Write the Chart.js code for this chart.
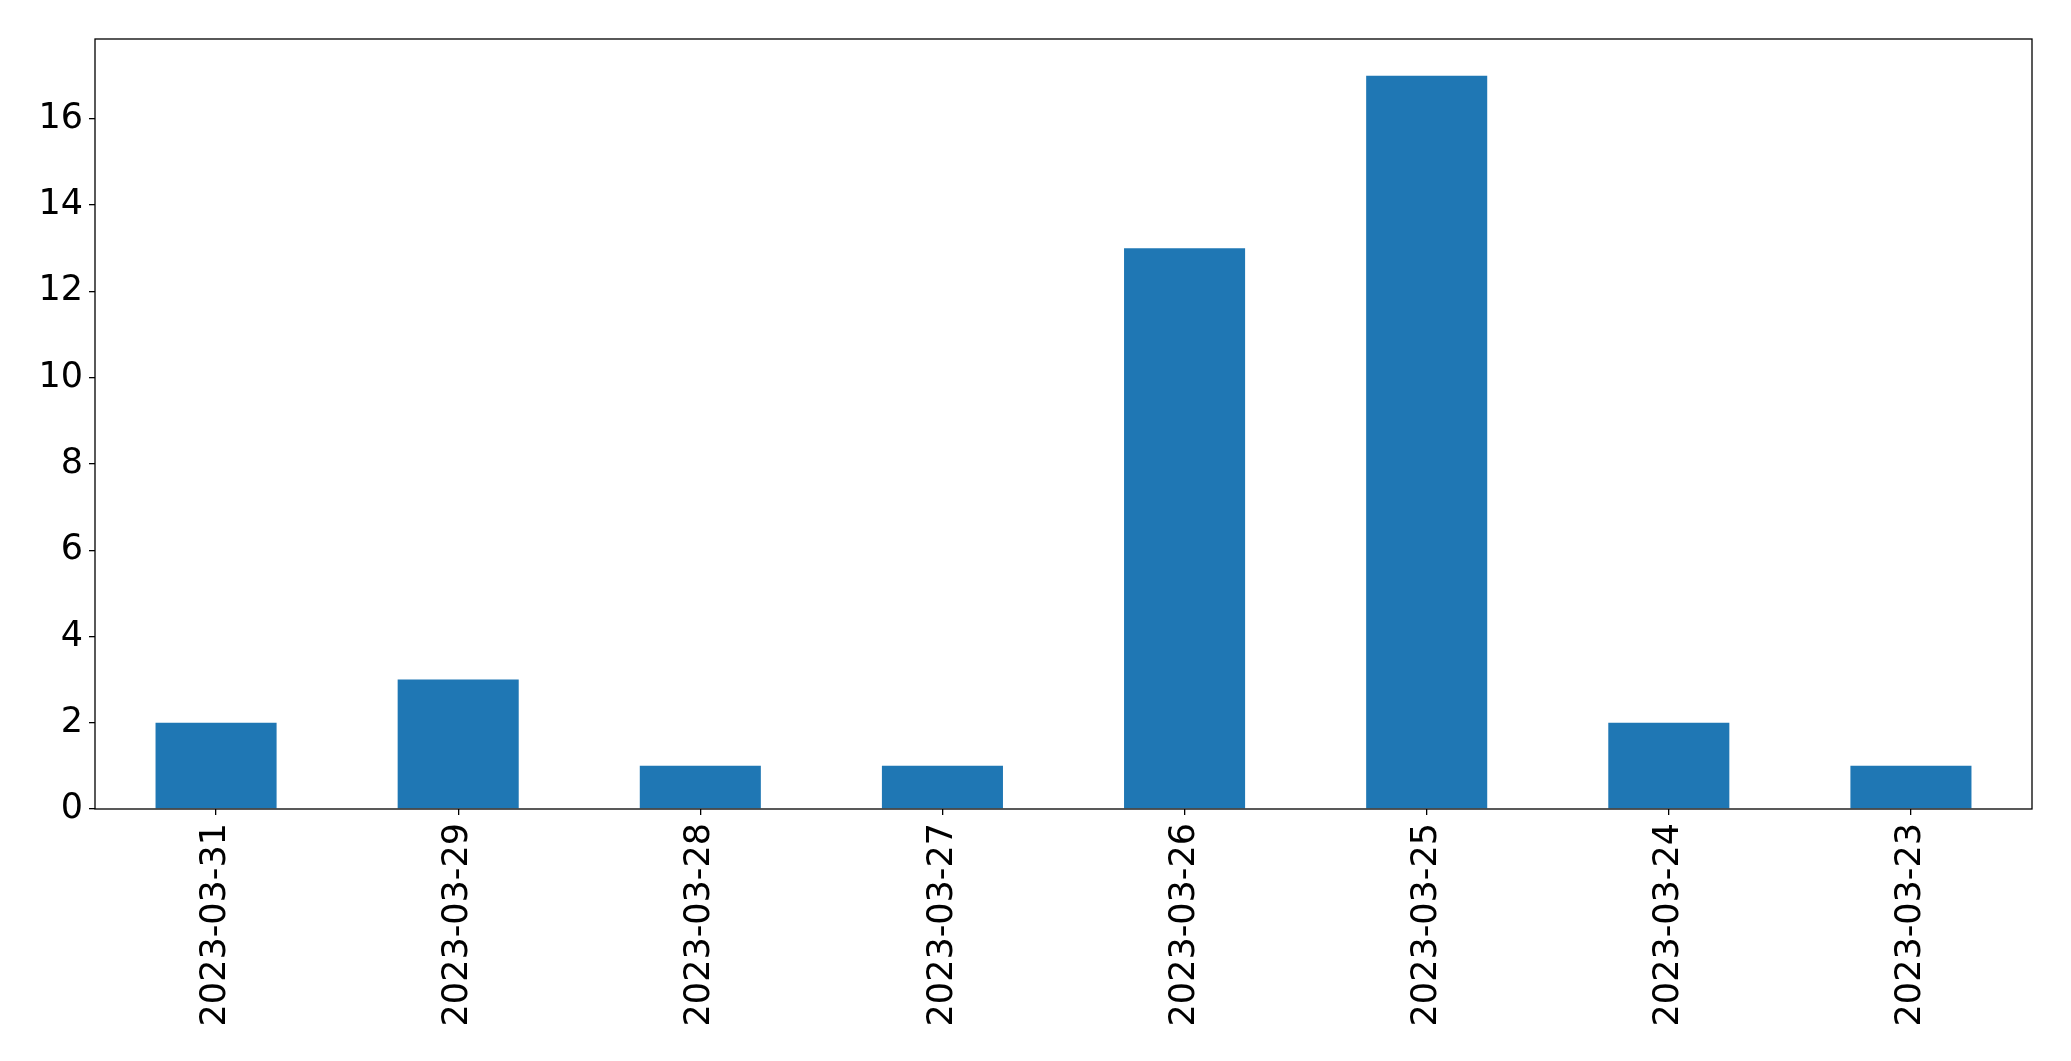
<!DOCTYPE html>
<html>
<head>
<meta charset="utf-8">
<script src="https://cdn.jsdelivr.net/npm/chart.js@4/dist/chart.umd.min.js"></script>
<style>
html,body{margin:0;padding:0;background:#fff;}
#wrap{width:2071px;height:1061px;position:relative;}
</style>
</head>
<body>
<div id="wrap"><canvas id="c" width="2071" height="1061"></canvas></div>
<script>
const categories = ["2023-03-31","2023-03-29","2023-03-28","2023-03-27","2023-03-26","2023-03-25","2023-03-24","2023-03-23"];
const counts = [2, 3, 1, 1, 13, 17, 2, 1];
const yTicks = [0, 2, 4, 6, 8, 10, 12, 14, 16];
const yMax = 17.85;

const frame = {
  id: 'frame',
  afterDatasetsDraw(chart) {
    const a = chart.chartArea, ctx = chart.ctx;
    ctx.save();
    ctx.strokeStyle = '#000';
    ctx.lineWidth = 1.3;
    ctx.strokeRect(a.left, a.top, a.right - a.left, a.bottom - a.top);
    ctx.restore();
  }
};

new Chart(document.getElementById('c'), {
  type: 'bar',
  data: {
    labels: categories,
    datasets: [{ data: counts, backgroundColor: '#1f77b4', borderWidth: 0, barPercentage: 0.5, categoryPercentage: 1.0 }]
  },
  options: {
    responsive: false,
    animation: false,
    layout: { padding: { top: 39, right: 39, left: 0, bottom: 0 } },
    plugins: { legend: { display: false }, tooltip: { enabled: false } },
    scales: {
      x: {
        offset: true,
        grid: { display: true, drawOnChartArea: false, drawTicks: true, tickLength: 6, lineWidth: 1.3, color: '#000', offset: false },
        border: { display: false },
        ticks: { color: '#000', font: { family: 'DejaVu Sans', size: 35 }, maxRotation: 90, minRotation: 90, padding: 8, autoSkip: false },
        afterFit(s) { s.height = 252; }
      },
      y: {
        min: 0, max: yMax,
        grid: { display: true, drawOnChartArea: false, drawTicks: true, tickLength: 6, lineWidth: 1.3, color: '#000' },
        border: { display: false },
        ticks: { color: '#000', font: { family: 'DejaVu Sans', size: 35 }, padding: 6 },
        afterBuildTicks(s) { s.ticks = yTicks.map(v => ({ value: v })); },
        afterFit(s) { s.width = 95; }
      }
    }
  },
  plugins: [frame]
});
</script>
</body>
</html>
